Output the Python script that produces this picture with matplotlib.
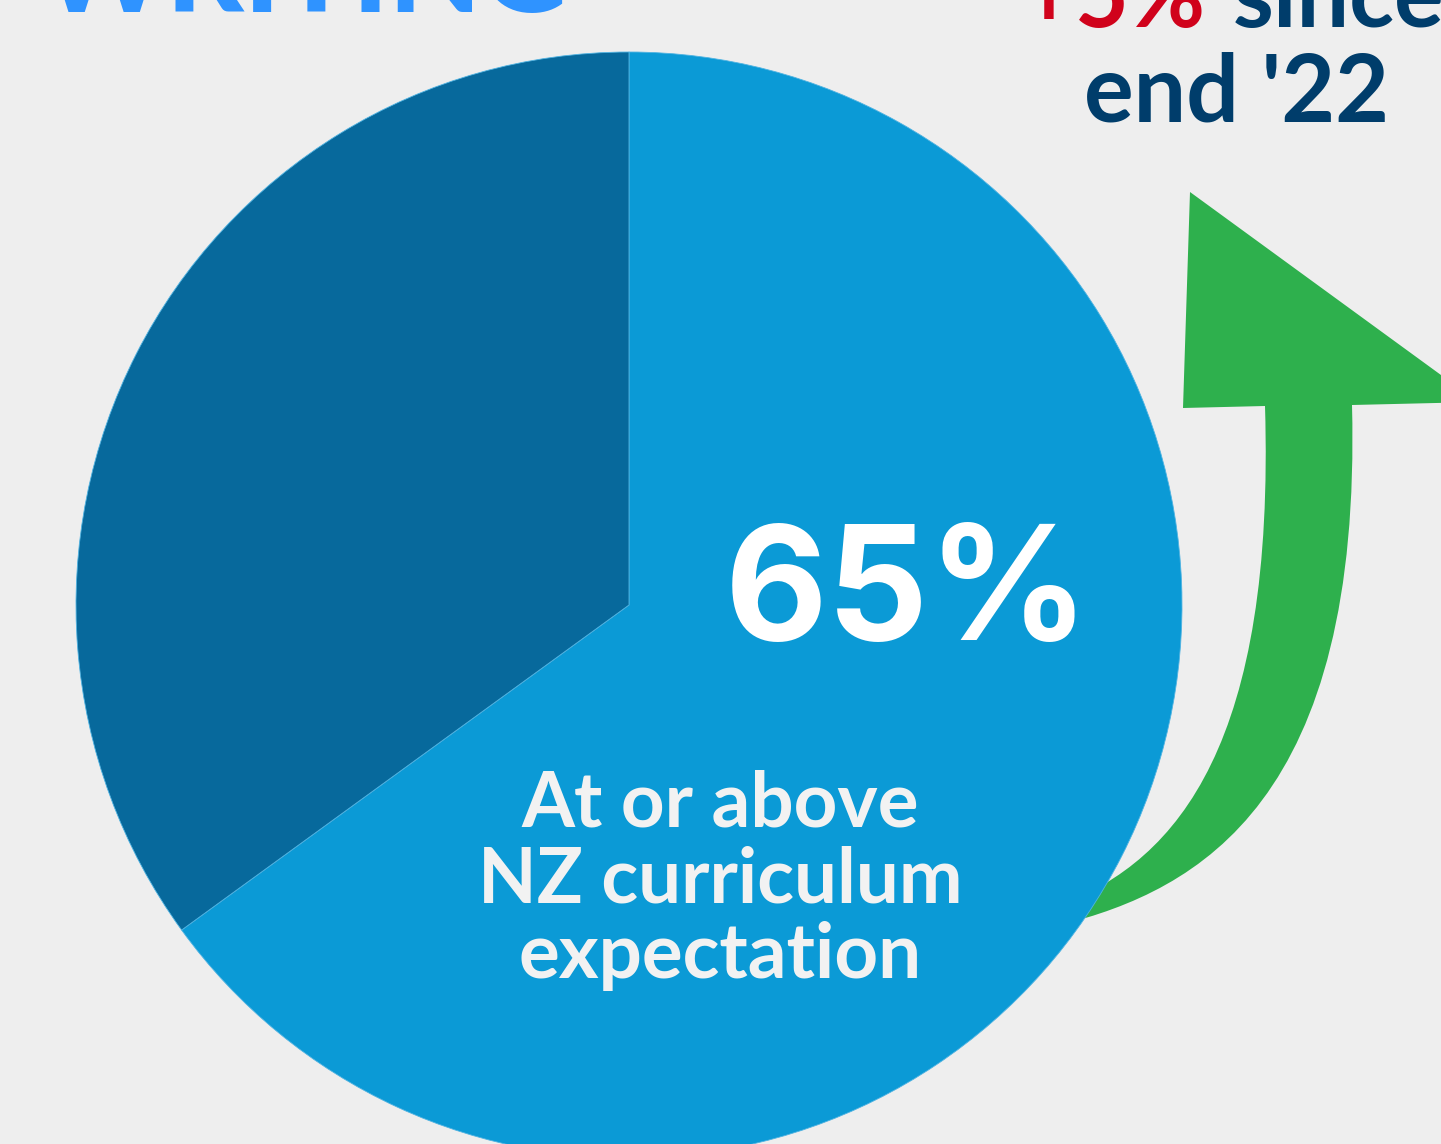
import matplotlib
matplotlib.use("Agg")
import matplotlib.pyplot as plt
from matplotlib.path import Path
from matplotlib.patches import PathPatch

# data
segments = ["At or above\nNZ curriculum\nexpectation", "Below"]
shares = [65, 35]
seg_colors = ["#0B9AD6", "#07699C"]
title = "WRITING"
change = "+5%"
change_rest = ["since", "end '22"]

W, H = 1441, 1144
BG = "#EEEEEE"


def py(y):
    # pixel row (from top) -> data y
    return H - y


fig = plt.figure(figsize=(W / 100, H / 100), dpi=100, facecolor=BG)
ax = fig.add_axes([0, 0, 1, 1])
ax.set_facecolor(BG)

# green curved arrow, drawn behind the pie
verts = [
    (1060, py(925)),
    (1200, py(890)), (1362, py(800)), (1352, py(405)),   # outer edge up
    (1478, py(402)),                                    # head tip
    (1190, py(192)),                                    # head top
    (1183, py(408)),                                    # head left
    (1265, py(406)),                                    # inner shaft top
    (1275, py(740)), (1180, py(860)), (1060, py(905)),  # inner edge down
    (1060, py(925)),
]
codes = [Path.MOVETO,
         Path.CURVE4, Path.CURVE4, Path.CURVE4,
         Path.LINETO, Path.LINETO, Path.LINETO, Path.LINETO,
         Path.CURVE4, Path.CURVE4, Path.CURVE4,
         Path.CLOSEPOLY]
ax.add_patch(PathPatch(Path(verts, codes), facecolor="#2EB04D",
                       edgecolor="none", zorder=0.5))

wedges, _ = ax.pie(shares, colors=seg_colors, startangle=90, counterclock=False,
                   center=(629, py(605)), radius=553,
                   wedgeprops=dict(linewidth=0.6, edgecolor="#4FB3E2"))
for w in wedges:
    w.set_zorder(1)

ax.set_xlim(0, W)
ax.set_ylim(0, H)
ax.set_aspect("equal")
ax.axis("off")

ax.text(907, py(640), f"{shares[0]}%", color="white", fontsize=114,
        family="Inter", weight="bold", ha="center", va="baseline", zorder=3)
ax.text(720, py(978), segments[0], color="#F2F2F2", fontsize=55,
        family="Lato", weight="bold", ha="center", va="baseline",
        linespacing=1.1, multialignment="center", zorder=3)

ax.text(40, py(12), title, color="#2F93FF", fontsize=86, family="Lato",
        weight="black", ha="left", va="baseline", zorder=3)
ax.text(1022, py(27), change, color="#D0021B", fontsize=67, family="Lato",
        weight="bold", ha="left", va="baseline", zorder=3)
ax.text(1233, py(27), change_rest[0], color="#003D6B", fontsize=67, family="Lato",
        weight="bold", ha="left", va="baseline", zorder=3)
ax.text(1237, py(122), change_rest[1], color="#003D6B", fontsize=67, family="Lato",
        weight="bold", ha="center", va="baseline", zorder=3)

fig.savefig("out.png", dpi=100, facecolor=BG)
